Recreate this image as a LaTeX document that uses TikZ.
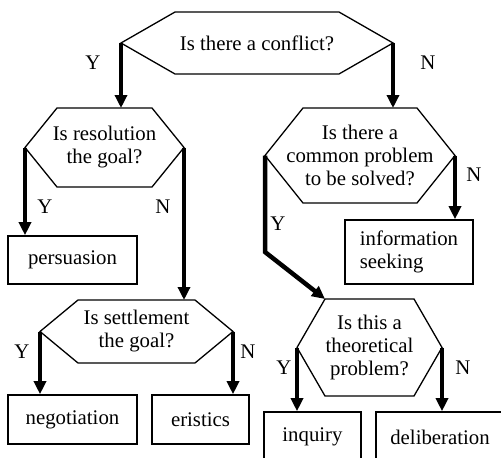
\documentclass[tikz,border=0pt]{standalone}
\usepackage{fontspec}
\setmainfont{Liberation Serif}
\usetikzlibrary{arrows.meta}

\newcommand{\qfont}{\fontsize{20.8}{23}\selectfont}

\tikzset{
  hexline/.style={line width=1.3pt, line join=miter},
  question/.style={align=center, inner sep=0pt, font=\qfont},
  outcome/.style={draw, line width=1.6pt, inner sep=0pt, font=\qfont},
  flow/.style={line width=4.5pt, -{Triangle[width=12pt,length=13pt]}},
  answer/.style={inner sep=0pt, font=\qfont},
}

% Hexagonal decision box: name, centre x, centre y, half width, half height, chamfer, text
\newcommand{\hexq}[7]{%
  \coordinate (#1-L) at ({#2-#4},#3);
  \coordinate (#1-R) at ({#2+#4},#3);
  \coordinate (#1-T) at (#2,{#3-#5});
  \coordinate (#1-TL) at ({#2-#4+#6},{#3-#5});
  \draw[hexline] (#1-L) -- (#1-TL) -- ++({2*(#4-#6)},0) -- (#1-R)
    -- ++({-#6},#5) -- ++({-2*(#4-#6)},0) -- cycle;
  \node[question] (#1) at (#2,#3) {#7};
}

\begin{document}
\begin{tikzpicture}[x=1pt,y=-1pt]
\useasboundingbox (0,0) rectangle (501,458);
\clip (0,0) rectangle (501,458);

% decisions
\hexq{q1}{257}{43}{136}{31}{54}{Is there a conflict?}
\hexq{q2}{104.5}{147.5}{79.5}{39.5}{32}{Is resolution\\the goal?}
\hexq{q3}{360}{155.5}{95}{47.5}{38}{Is there a\\common problem\\to be solved?}
\hexq{q4}{136.5}{331.5}{96.5}{31.5}{38}{Is settlement\\the goal?}
\hexq{q5}{369.5}{347.5}{72.5}{48.5}{28}{Is this a\\theoretical\\problem?}

% dialogue types
\node[outcome, minimum width=129pt, minimum height=48pt] (persuasion) at (72.5,260) {persuasion};
\node[outcome, minimum width=128pt, minimum height=64pt, align=left] (seeking) at (409,252) {information\\seeking};
\node[outcome, minimum width=129pt, minimum height=49pt] (negotiation) at (72.5,419.5) {negotiation};
\node[outcome, minimum width=97pt, minimum height=49pt] (eristics) at (200.5,419.5) {eristics};
\node[outcome, minimum width=97pt, minimum height=50pt] (inquiry) at (312.5,437) {inquiry};
\node[outcome, minimum width=128pt, minimum height=50pt] (deliberation) at (440,437) {deliberation};

% flow
\coordinate (bend) at (265,252);
\draw[flow] (q1-L) -- (q1-L |- q2-T);
\draw[flow] (q1-R) -- (q1-R |- q3-T);
\draw[flow] (q2-L) -- (q2-L |- persuasion.north);
\draw[flow] (q2-R) -- (q2-R |- q4-T);
\draw[flow] (q3-R) -- (q3-R |- seeking.north);
\draw[flow] (q3-L) -- (bend) -- (q5-TL);
\draw[flow] (q4-L) -- (q4-L |- negotiation.north);
\draw[flow] (q4-R) -- (q4-R |- eristics.north);
\draw[flow] (q5-L) -- (q5-L |- inquiry.north);
\draw[flow] (q5-R) -- (q5-R |- deliberation.north);

% answers
\node[answer] (a1) at (93,63) {Y};
\node[answer] (a2) at (428,63) {N};
\node[answer] (a3) at (45,207) {Y};
\node[answer] (a4) at (163,207) {N};
\node[answer] (a5) at (474,175) {N};
\node[answer] (a6) at (278,224) {Y};
\node[answer] (a7) at (22,352) {Y};
\node[answer] (a8) at (248,352) {N};
\node[answer] (a9) at (284,368) {Y};
\node[answer] (a10) at (463,368) {N};
\end{tikzpicture}
\end{document}
